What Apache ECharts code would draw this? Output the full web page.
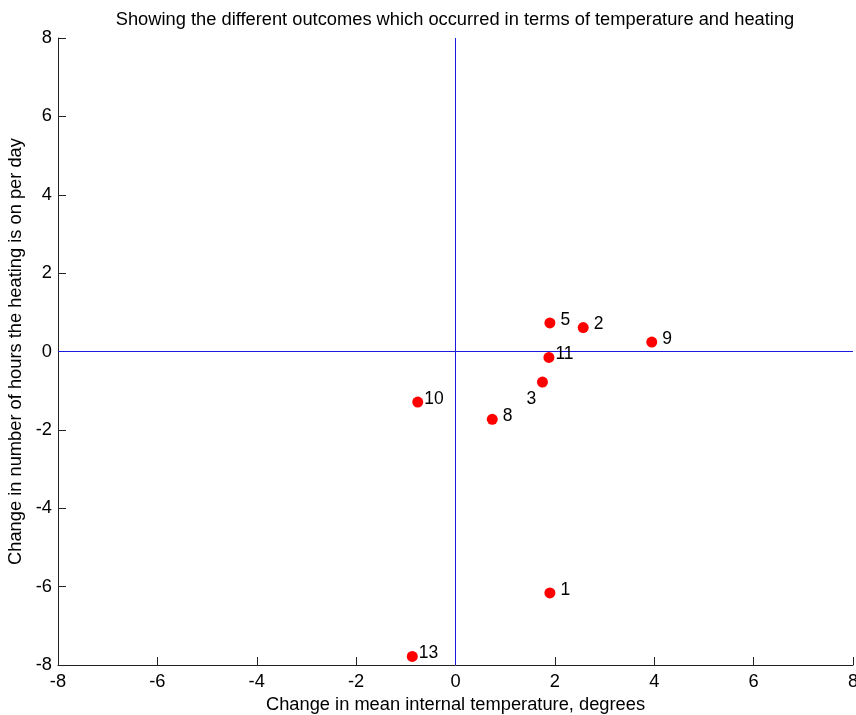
<!DOCTYPE html>
<html>
<head>
<meta charset="utf-8">
<script src="https://cdn.jsdelivr.net/npm/echarts@6/dist/echarts.min.js"></script>
<style>html,body{margin:0;padding:0;background:#fff;}#c{width:856px;height:715px;}</style>
</head>
<body>
<div id="c"></div>
<script>
var pointLabels = ['1', '2', '3', '5', '8', '9', '10', '11', '13'];
var tempChange = [1.90, 2.57, 1.75, 1.90, 0.74, 3.95, -0.76, 1.88, -0.87];
var heatChange = [-6.16, 0.61, -0.78, 0.73, -1.73, 0.24, -1.29, -0.15, -7.78];
var axisTicks = [-8, -6, -4, -2, 0, 2, 4, 6, 8];
var zeroLineX = 0;
var zeroLineY = 0;

var FONT = "'Liberation Sans', Arial, Helvetica, sans-serif";
var FS = 18.3;
var lo = axisTicks[0], hi = axisTicks[axisTicks.length - 1];
var labelStyle = {
  '1': {position: 'right', distance: 5, offset: [0, -3]},
  '2': {position: 'right', distance: 5, offset: [0, -3]},
  '3': {position: 'inside', offset: [-11, 17]},
  '5': {position: 'right', distance: 5, offset: [0, -3]},
  '8': {position: 'right', distance: 5, offset: [0, -3]},
  '9': {position: 'right', distance: 5, offset: [0, -3]},
  '10': {position: 'right', distance: 1, offset: [0, -3]},
  '11': {position: 'right', distance: 1, offset: [0, -3]},
  '13': {position: 'right', distance: 1, offset: [0, -3]}
};
var data = pointLabels.map(function (n, i) {
  var ls = labelStyle[n];
  return {
    value: [tempChange[i], heatChange[i]],
    name: n,
    label: Object.assign({show: true, formatter: n, color: '#000', fontSize: 17.5, fontFamily: FONT}, ls)
  };
});

function makeAxis(extra) {
  return Object.assign({
    type: 'value',
    min: lo,
    max: hi,
    interval: 2,
    splitLine: {show: false},
    axisLine: {show: true, onZero: false, lineStyle: {color: '#222', width: 1}},
    axisTick: {show: true, inside: true, length: 8, lineStyle: {color: '#222'}},
    nameLocation: 'middle',
    nameTextStyle: {color: '#000', fontSize: FS, fontFamily: FONT}
  }, extra);
}

function zeroSeries(pts) {
  return {
    type: 'line',
    silent: true,
    symbol: 'none',
    animation: false,
    lineStyle: {color: '#1a1ae0', width: 1, type: 'solid', opacity: 1},
    itemStyle: {color: '#1a1ae0'},
    emphasis: {disabled: true},
    data: pts,
    z: 1
  };
}

var chart = echarts.init(document.getElementById('c'), null, {renderer: 'canvas'});
chart.setOption({
  backgroundColor: '#fff',
  animation: false,
  title: {
    text: 'Showing the different outcomes which occurred in terms of temperature and heating',
    left: 450,
    top: 6,
    textAlign: 'center',
    textStyle: {color: '#000', fontSize: FS, fontWeight: 'normal', fontFamily: FONT}
  },
  grid: {left: 58, right: 3, top: 38, bottom: 50, containLabel: false, outerBoundsMode: 'none'},
  xAxis: makeAxis({
    name: 'Change in mean internal temperature, degrees',
    nameGap: 30,
    axisLabel: {color: '#000', fontSize: FS, fontFamily: FONT, margin: 8}
  }),
  yAxis: makeAxis({
    name: 'Change in number of hours the heating is on per day',
    nameGap: 30,
    axisLabel: {color: '#000', fontSize: FS, fontFamily: FONT, margin: 6}
  }),
  series: [
    zeroSeries([[zeroLineX, lo], [zeroLineX, hi]]),
    zeroSeries([[lo, zeroLineY], [hi, zeroLineY]]),
    {
      type: 'scatter',
      symbol: 'circle',
      symbolSize: 11,
      itemStyle: {color: '#ff0000', opacity: 1},
      data: data,
      z: 3
    }
  ]
});
</script>
</body>
</html>
